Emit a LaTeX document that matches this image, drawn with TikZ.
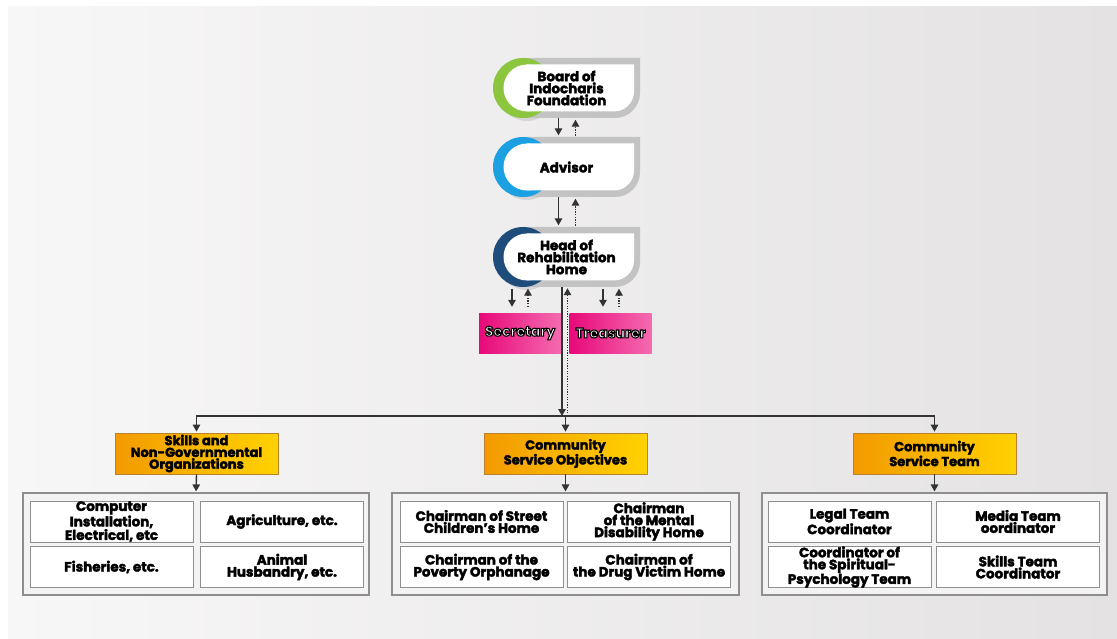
\documentclass[tikz,border=0pt]{standalone}
\usepackage{fontspec}
\setmainfont{Poppins}[BoldFeatures={FakeBold=2.5}]
\newfontfamily\pinkfont{Poppins}
\usetikzlibrary{arrows.meta}
\definecolor{bgL}{HTML}{F8F7F7}
\definecolor{bgR}{HTML}{E4E2E3}
\definecolor{ringgray}{HTML}{C3C3C3}
\definecolor{rgreen}{HTML}{8CC63F}
\definecolor{rblue}{HTML}{1BA0E1}
\definecolor{rdark}{HTML}{1E4D7B}
\definecolor{pinkL}{HTML}{E8097A}
\definecolor{pinkR}{HTML}{F46BAF}
\definecolor{orL}{HTML}{F39A00}
\definecolor{orR}{HTML}{FFD200}
\definecolor{orB}{HTML}{B9822F}
\definecolor{lineC}{HTML}{333333}
\definecolor{grpB}{HTML}{8E8E8E}
\definecolor{grpF}{HTML}{F4F3F3}
\newcommand\ringshape[2]{%
  \fill[black,opacity=0.10] (527,#1+4) circle[radius=29pt];
  \fill[ringgray] (523,#1-30) -- (640,#1-30) -- (640,#1+5) .. controls (640,#1+18.8) and (628.8,#1+30) .. (615,#1+30) -- (523,#1+30) -- cycle;
  \fill[#2] (523,#1) circle[radius=30pt];
  \fill[white] (527,#1-23.5) -- (634,#1-23.5) -- (634,#1+3.5) .. controls (634,#1+14.5) and (625,#1+23.5) .. (614,#1+23.5) -- (527,#1+23.5) -- cycle;
  \fill[white] (527,#1) circle[radius=23.5pt];
}
\newcommand\outlined[1]{\special{pdf:literal direct 2 Tr 1.1 w 0 0 0 RG}#1\special{pdf:literal direct 0 Tr}}
\begin{document}
\begin{tikzpicture}[x=1pt,y=-1pt,
  conn/.style={draw=lineC, line width=1.4pt},
  tip/.style={-{Triangle[width=7.5pt,length=7pt]}},
  dotc/.style={draw=lineC, line width=1.3pt, dash pattern=on 1.3pt off 1.3pt},
  ringtxt/.style={minimum width=147pt, minimum height=60pt, inner sep=0pt, align=center,
    font=\fontsize{13.5}{12}\selectfont\bfseries},
  pinkbox/.style={shade, left color=pinkL, right color=pinkR, minimum width=82pt, minimum height=40pt, inner sep=0pt},
  pinktxt/.style={inner sep=0pt, text=white, font=\pinkfont\fontsize{14}{12}\selectfont\bfseries},
  orbox/.style={shade, left color=orL, right color=orR, draw=orB, line width=0.8pt,
    minimum width=163pt, minimum height=41pt, inner sep=0pt, align=center,
    font=\fontsize{13}{11.8}\selectfont\bfseries},
  grp/.style={draw=grpB, fill=grpF, line width=1.2pt, minimum height=102pt, inner sep=0pt},
  cell/.style={draw=grpB, fill=white, line width=1pt, minimum width=163pt, minimum height=41pt,
    inner sep=0pt, align=center, font=\fontsize{13.5}{12}\selectfont\bfseries}
]
\useasboundingbox (0,0) rectangle (1117,639);
\fill[white] (0,0) rectangle (1117,639);
\shade[left color=bgL, right color=bgR] (8,7) rectangle (1117,639);

% pink boxes (drawn first so that their outlined text keeps its render mode)
\node[pinkbox] (sec) at (520,333) {};
\node[pinkbox] (tre) at (610.5,333) {};
\node[pinktxt] (secl) at (sec.center) {\outlined{Secretary}};
\node[pinktxt] (trel) at (tre.center) {\outlined{Treasurer}};

% ring nodes
\ringshape{88}{rgreen}
\ringshape{167}{rblue}
\ringshape{257}{rdark}
\node[ringtxt] (board) at (566.5,88) {Board of\\Indocharis\\Foundation};
\node[ringtxt] (advisor) at (566.5,167) {Advisor};
\node[ringtxt] (head) at (566.5,257) {Head of\\Rehabilitation\\Home};

% orange boxes
\node[orbox] (skills) at (196.5,453.5) {Skills and\\Non-Governmental\\Organizations};
\node[orbox] (obj) at (565.5,453.5) {Community\\Service Objectives};
\node[orbox] (team) at (934.5,453.5) {Community\\Service Team};

% group boxes
\node[grp, minimum width=346pt] (grpL) at (196,544) {};
\node[grp, minimum width=347pt] (grpM) at (565.5,544) {};
\node[grp, minimum width=345pt] (grpR) at (934.5,544) {};

% cells
\node[cell] (l1) at (111.5,521.5) {Computer\\Installation,\\Electrical, etc};
\node[cell] (l2) at (282,521.5) {Agriculture, etc.};
\node[cell] (l3) at (111.5,567) {Fisheries, etc.};
\node[cell] (l4) at (282,567) {Animal\\Husbandry, etc.};
\node[cell] (m1) at (481.5,521.5) {Chairman of Street\\Children's Home};
\node[cell] (m2) at (649,521.5) {Chairman\\of the Mental\\Disability Home};
\node[cell] (m3) at (481.5,567) {Chairman of the\\Poverty Orphanage};
\node[cell] (m4) at (649,567) {Chairman of\\the Drug Victim Home};
\node[cell] (r1) at (849.5,521.5) {Legal Team\\Coordinator};
\node[cell] (r2) at (1018,521.5) {Media Team\\oordinator};
\node[cell] (r3) at (849.5,567) {Coordinator of\\the Spiritual-\\Psychology Team};
\node[cell] (r4) at (1018,567) {Skills Team\\Coordinator};

% connectors between ring nodes
\draw[conn,tip,shorten >=1.5pt] ([xshift=-8pt]board.south) -- ([xshift=-8pt]advisor.north);
\draw[dotc,tip,shorten <=1pt,shorten >=1.5pt] ([xshift=9pt]advisor.north) -- ([xshift=9pt]board.south);
\draw[conn,tip,shorten >=1.5pt] ([xshift=-8pt]advisor.south) -- ([xshift=-8pt]head.north);
\draw[dotc,tip,shorten <=1pt,shorten >=1.5pt] ([xshift=9pt]head.north) -- ([xshift=9pt]advisor.south);

% head to secretary / treasurer
\draw[conn,tip,shorten <=1.5pt,shorten >=6pt] ([xshift=-8pt]sec.north |- head.south) -- ([xshift=-8pt]sec.north);
\draw[dotc,tip,shorten <=6pt,shorten >=1.5pt] ([xshift=8pt]sec.north) -- ([xshift=8pt]sec.north |- head.south);
\draw[conn,tip,shorten <=1.5pt,shorten >=6pt] ([xshift=-7.5pt]tre.north |- head.south) -- ([xshift=-7.5pt]tre.north);
\draw[dotc,tip,shorten <=6pt,shorten >=1.5pt] ([xshift=8.5pt]tre.north) -- ([xshift=8.5pt]tre.north |- head.south);

% bus
\coordinate (busM) at (565.5,416);
\draw[conn,tip] ([xshift=-4.5pt]head.south) -- ([xshift=-4.5pt]head.south |- busM);
\draw[dotc,tip,shorten >=1pt] ([xshift=1pt]head.south |- busM) -- ([xshift=1pt]head.south);
\draw[conn,tip,shorten >=1pt] (busM) -| (skills.north);
\draw[conn,tip,shorten >=1pt] (busM) -| (team.north);
\draw[conn,tip,shorten >=1pt] (busM) -- (obj.north);

% orange to groups
\draw[conn,tip,shorten >=1pt] (skills.south) -- (grpL.north);
\draw[conn,tip,shorten >=1pt] (obj.south) -- (grpM.north);
\draw[conn,tip,shorten >=1pt] (team.south) -- (grpR.north);
\end{tikzpicture}
\end{document}
